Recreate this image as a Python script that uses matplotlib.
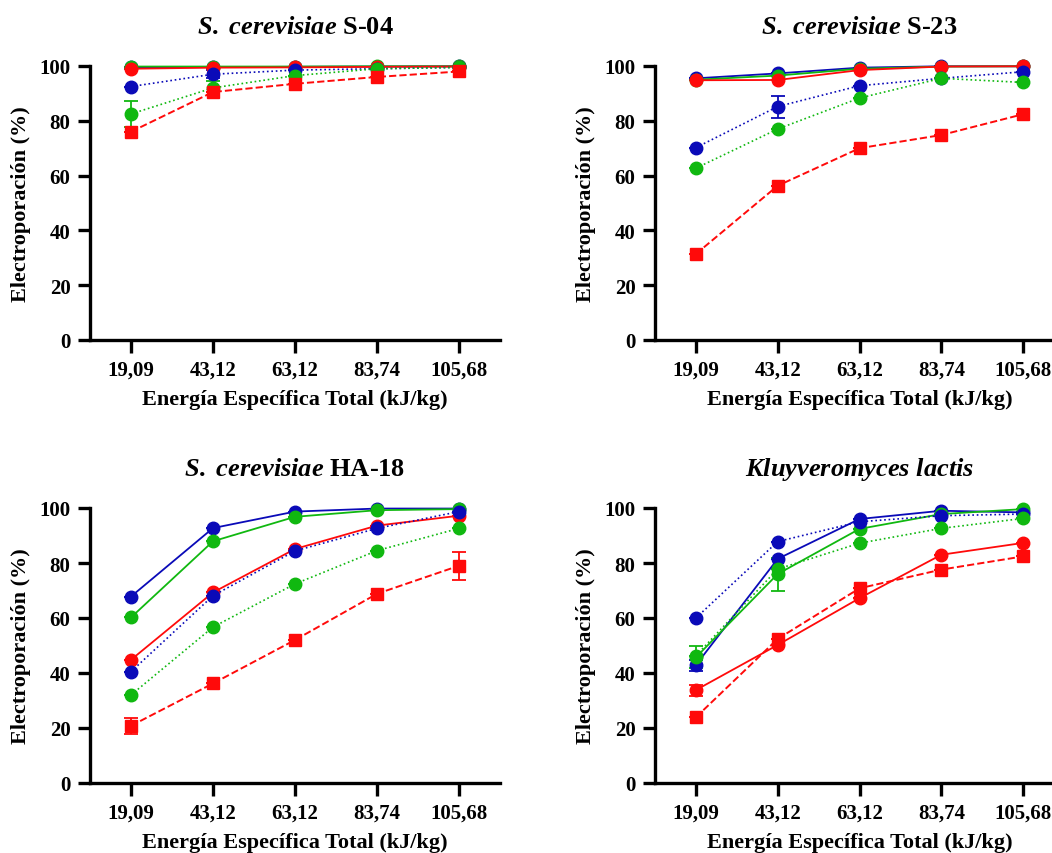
import matplotlib.pyplot as plt

plt.rcParams['font.family'] = 'Liberation Serif'
plt.rcParams['font.weight'] = 'bold'
plt.rcParams['mathtext.fontset'] = 'custom'
plt.rcParams['mathtext.rm'] = 'Liberation Serif:bold'
plt.rcParams['mathtext.it'] = 'Liberation Serif:bold:italic'
plt.rcParams['mathtext.bf'] = 'Liberation Serif:bold'
plt.rcParams['mathtext.bfit'] = 'Liberation Serif:bold:italic'

energias = ['19,09', '43,12', '63,12', '83,74', '105,68']
titulos = [r'$\mathit{S.}$ $\mathit{cerevisiae}$ S-04', r'$\mathit{S.}$ $\mathit{cerevisiae}$ S-23',
           r'$\mathit{S.}$ $\mathit{cerevisiae}$ HA-18', r'$\mathit{Kluyveromyces}$ $\mathit{lactis}$']

# order in each panel: blue solid, green solid, red solid, blue dotted, green dotted, red dashed
s04 = [[99.5, 99.6, 99.7, 99.8, 99.9],
       [99.8, 99.8, 99.8, 99.9, 99.9],
       [99.0, 99.4, 99.5, 99.7, 99.8],
       [92.5, 97.0, 98.5, 99.0, 99.5],
       [82.5, 92.0, 96.5, 99.0, 99.5],
       [76.0, 90.5, 93.5, 96.0, 98.0]]
s04_err = [[0, 0, 0, 0, 0], [0, 0, 0, 0, 0], [0, 0, 0, 0, 0],
           [0, 1.5, 0, 0, 0], [4.8, 2.5, 0, 0, 0], [0, 0, 0, 0, 0]]

s23 = [[95.5, 97.3, 99.4, 99.9, 99.9],
       [95.0, 96.5, 99.0, 99.8, 99.9],
       [94.8, 94.9, 98.5, 99.8, 99.9],
       [70.2, 85.2, 92.8, 95.5, 97.9],
       [62.7, 77.0, 88.3, 95.5, 94.0],
       [31.4, 56.3, 70.0, 74.8, 82.4]]
s23_err = [[0, 0, 0, 0, 0], [0, 0, 0, 0, 0], [0, 0, 0, 0, 0],
           [0, 4.0, 0, 0, 0], [0, 0, 0, 0, 0], [0, 0, 0, 0, 0]]

ha18 = [[67.8, 92.7, 98.7, 99.8, 99.8],
        [60.2, 87.9, 96.8, 99.2, 99.6],
        [44.8, 69.3, 85.1, 93.6, 97.2],
        [40.5, 68.1, 84.4, 92.6, 98.7],
        [32.0, 56.7, 72.4, 84.5, 92.6],
        [20.8, 36.2, 52.0, 68.8, 79.0]]
ha18_err = [[0, 0, 0, 0, 0], [0, 0, 0, 0, 0], [0, 0, 0, 0, 0],
            [0, 0, 0, 0, 0], [0, 0, 0, 0, 0], [3.0, 0, 0, 0, 5.0]]

klac = [[42.9, 81.5, 96.0, 99.0, 98.4],
        [45.7, 76.0, 92.4, 97.8, 99.6],
        [33.8, 50.2, 67.2, 83.0, 87.3],
        [60.0, 87.8, 95.0, 97.2, 97.8],
        [46.3, 77.8, 87.2, 92.6, 96.2],
        [23.9, 52.4, 70.8, 77.6, 82.4]]
klac_err = [[2.0, 0, 0, 0, 0], [4.0, 6.0, 0, 0, 0], [2.0, 0, 0, 0, 0],
            [0, 0, 0, 0, 0], [0, 0, 0, 0, 0], [0, 0, 0, 0, 0]]

datos = [s04, s23, ha18, klac]
errores = [s04_err, s23_err, ha18_err, klac_err]

azul = '#0a0ab8'
verde = '#10b810'
rojo = '#ff0a0a'
estilos = [(azul, '-', 'o', 1.3), (verde, '-', 'o', 1.3), (rojo, '-', 'o', 1.3),
           (azul, ':', 'o', 1.2), (verde, ':', 'o', 1.2), (rojo, '--', 's', 1.4)]

fig = plt.figure(figsize=(10.52, 8.54), dpi=100)
W, H = 1052, 854
# left, bottom(px from top), width, height in pixels
cajas = [(90, 341, 410, 274), (655, 341, 409, 274),
         (90, 784, 410, 275), (655, 784, 409, 275)]

x = list(range(len(energias)))
for k in range(4):
    l, b, w, h = cajas[k]
    ax = fig.add_axes([l / W, (H - b) / H, w / W, h / H])
    for (c, ls, m, lw), y, e in zip(estilos, datos[k], errores[k]):
        ax.errorbar(x, y, yerr=e, color=c, ls=ls, lw=lw, marker=m,
                    ms=9 if m == 'o' else 8.5, capsize=5, elinewidth=1.3,
                    capthick=1.3, clip_on=False)
    ax.set_xlim(-0.5, 4.5)
    ax.set_ylim(0, 100)
    ax.set_yticks([0, 20, 40, 60, 80, 100])
    ax.set_xticks(x)
    ax.set_xticklabels(energias)
    ax.spines['top'].set_visible(False)
    ax.spines['right'].set_visible(False)
    for s in ['left', 'bottom']:
        ax.spines[s].set_linewidth(2.4)
    ax.tick_params(width=2.4, length=9, labelsize=15, pad=5)
    for t in ax.get_xticklabels() + ax.get_yticklabels():
        t.set_fontweight('bold')
    ax.set_xlabel('Energía Específica Total (kJ/kg)', fontsize=16,
                  fontweight='bold', labelpad=7)
    ax.set_ylabel('Electroporación (%)', fontsize=16, fontweight='bold',
                  labelpad=6)
    ax.set_title(titulos[k], fontsize=19, fontweight='bold', pad=24)

fig.savefig('out.png', dpi=100)
